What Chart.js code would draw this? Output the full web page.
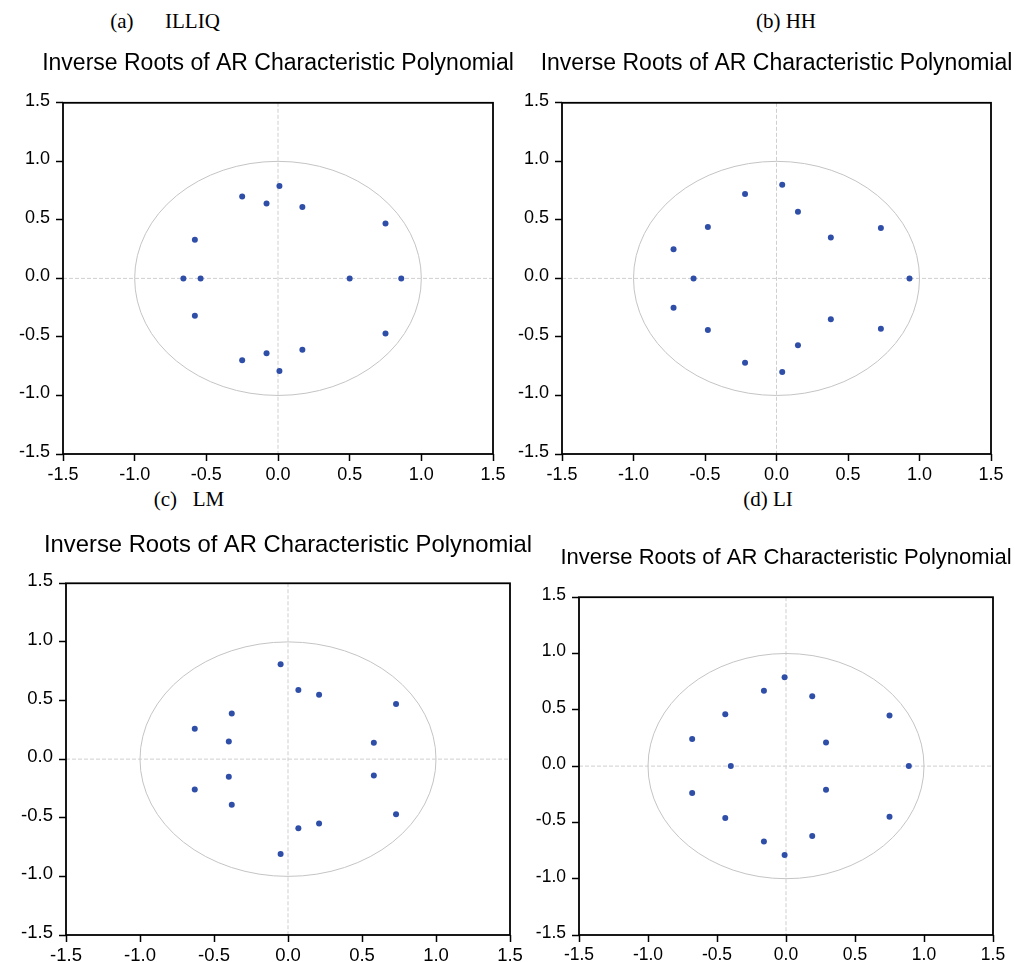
<!DOCTYPE html>
<html>
<head>
<meta charset="utf-8">
<script src="https://cdn.jsdelivr.net/npm/chart.js@4.4.1/dist/chart.umd.min.js"></script>
<style>
  html, body { margin: 0; background: #fff; overflow: hidden; }
  body { width: 1025px; height: 962px; position: relative; }
  canvas { position: absolute; }
  .cap { position: absolute; font-family: "Liberation Serif", "Times New Roman", serif; font-size: 21px; color: #000;
         white-space: pre; transform: translate(-50%, -50%); }
</style>
</head>
<body>
<div class="cap" style="left:165px; top:21px">(a)      ILLIQ</div>
<div class="cap" style="left:786px; top:21px">(b) HH</div>
<div class="cap" style="left:189px; top:499px">(c)   LM</div>
<div class="cap" style="left:768px; top:499px">(d) LI</div>

<canvas id="c1"></canvas>
<canvas id="c2"></canvas>
<canvas id="c3"></canvas>
<canvas id="c4"></canvas>

<script>
const illiqRe = [0.01, -0.25, -0.08, 0.17, 0.75, -0.58, -0.66, -0.54, 0.50, 0.86, -0.58, 0.75, 0.17, -0.08, -0.25, 0.01];
const illiqIm = [0.79, 0.70, 0.64, 0.61, 0.47, 0.33, 0, 0, 0, 0, -0.32, -0.47, -0.61, -0.64, -0.70, -0.79];

const hhRe = [0.04, -0.22, 0.15, -0.48, 0.73, 0.38, -0.72, -0.58, 0.93, -0.72, 0.38, -0.48, 0.73, 0.15, -0.22, 0.04];
const hhIm = [0.80, 0.72, 0.57, 0.44, 0.43, 0.35, 0.25, 0, 0, -0.25, -0.35, -0.44, -0.43, -0.57, -0.72, -0.80];

const lmRe = [-0.05, 0.07, 0.21, 0.73, -0.38, -0.63, -0.40, 0.58, -0.40, 0.58, -0.63, -0.38, 0.73, 0.21, 0.07, -0.05];
const lmIm = [0.81, 0.59, 0.55, 0.47, 0.39, 0.26, 0.15, 0.14, -0.15, -0.14, -0.26, -0.39, -0.47, -0.55, -0.59, -0.81];

const liRe = [-0.01, -0.16, 0.19, -0.44, 0.75, -0.68, 0.29, -0.40, 0.89, -0.68, 0.29, -0.44, 0.75, 0.19, -0.16, -0.01];
const liIm = [0.79, 0.67, 0.62, 0.46, 0.45, 0.24, 0.21, 0, 0, -0.24, -0.21, -0.46, -0.45, -0.62, -0.67, -0.79];

const axisMin = -1.5;
const axisMax = 1.5;
const axisStep = 0.5;
const titleText = 'Inverse Roots of AR Characteristic Polynomial';

Chart.defaults.font.family = '"Liberation Sans", Arial, sans-serif';
Chart.defaults.color = '#000';

// unit circle + zero lines under the dots, black frame on top
const unitCircle = {
  id: 'unitCircle',
  beforeDatasetsDraw(chart) {
    const ctx = chart.ctx, a = chart.chartArea;
    const x = chart.scales.x, y = chart.scales.y;
    const cx = x.getPixelForValue(0), cy = y.getPixelForValue(0);
    const rx = x.getPixelForValue(1) - cx, ry = cy - y.getPixelForValue(1);
    ctx.save();
    ctx.strokeStyle = '#cfcfcf';
    ctx.lineWidth = 1;
    ctx.setLineDash([4, 2]);
    ctx.beginPath();
    ctx.moveTo(cx, a.top); ctx.lineTo(cx, a.bottom);
    ctx.moveTo(a.left, cy); ctx.lineTo(a.right, cy);
    ctx.stroke();
    ctx.setLineDash([]);
    ctx.strokeStyle = '#c4c4c4';
    ctx.beginPath();
    ctx.ellipse(cx, cy, rx, ry, 0, 0, Math.PI * 2);
    ctx.stroke();
    ctx.restore();
  },
  afterDatasetsDraw(chart) {
    const ctx = chart.ctx, a = chart.chartArea;
    ctx.save();
    ctx.strokeStyle = '#000';
    ctx.lineWidth = 1.8;
    ctx.strokeRect(a.left, a.top, a.right - a.left, a.bottom - a.top);
    ctx.restore();
  }
};

function makePanel(id, re, im, p) {
  const Wy = 50, Hx = 40;
  const cl = p.L - Wy;
  const ct = p.yc - 0.6 * p.ts;
  const cv = document.getElementById(id);
  cv.width = Math.round(p.R - cl + Wy);
  cv.height = Math.round(p.B - ct + Hx);
  cv.style.left = cl + 'px';
  cv.style.top = ct + 'px';

  const pts = [];
  for (let i = 0; i < re.length; i++) {
    pts.push({x: re[i], y: im[i]});
  }

  const axis = (pad, size, off) => ({
    type: 'linear',
    min: axisMin, max: axisMax,
    border: {display: false},
    grid: {drawOnChartArea: false, drawTicks: true, tickLength: 7, tickColor: '#000', tickWidth: 1.5, color: '#000'},
    ticks: {stepSize: axisStep, padding: pad, labelOffset: off, font: {size: size}, color: '#000',
            callback: v => v.toFixed(1)}
  });

  const xs = axis(3, p.fs, 0);
  xs.position = 'bottom';
  xs.afterFit = s => { s.height = Hx; };
  const ys = axis(6, p.fs, -2);
  ys.position = 'left';
  ys.afterFit = s => { s.width = Wy; };
  // empty spacer on the right so the title sits centred over the plot
  const yr = {
    type: 'linear', position: 'right', min: axisMin, max: axisMax,
    border: {display: false}, grid: {display: false}, ticks: {display: false},
    afterFit: s => { s.width = Wy; }
  };

  return new Chart(cv, {
    type: 'scatter',
    data: {
      datasets: [{
        data: pts,
        backgroundColor: '#2f4ea8',
        borderColor: '#2f4ea8',
        borderWidth: 0,
        pointRadius: 3,
        pointHoverRadius: 3
      }]
    },
    options: {
      responsive: false,
      animation: false,
      devicePixelRatio: 1,
      layout: {padding: 0},
      plugins: {
        legend: {display: false},
        tooltip: {enabled: false},
        title: {
          display: true, text: titleText,
          font: {size: p.ts, weight: 'normal'}, color: '#000',
          padding: {top: 0, bottom: p.T - ct - 1.2 * p.ts}
        }
      },
      scales: {x: xs, y: ys, yr: yr}
    },
    plugins: [unitCircle]
  });
}

makePanel('c1', illiqRe, illiqIm, {L: 63, R: 493, T: 103, B: 454, yc: 64, ts: 23, fs: 18});
makePanel('c2', hhRe, hhIm, {L: 562, R: 991, T: 103, B: 454, yc: 64, ts: 23, fs: 18});
makePanel('c3', lmRe, lmIm, {L: 66, R: 510, T: 583, B: 935, yc: 545, ts: 23.8, fs: 18.5});
makePanel('c4', liRe, liIm, {L: 579, R: 993, T: 597, B: 935, yc: 558, ts: 22, fs: 17.5});
</script>
</body>
</html>
